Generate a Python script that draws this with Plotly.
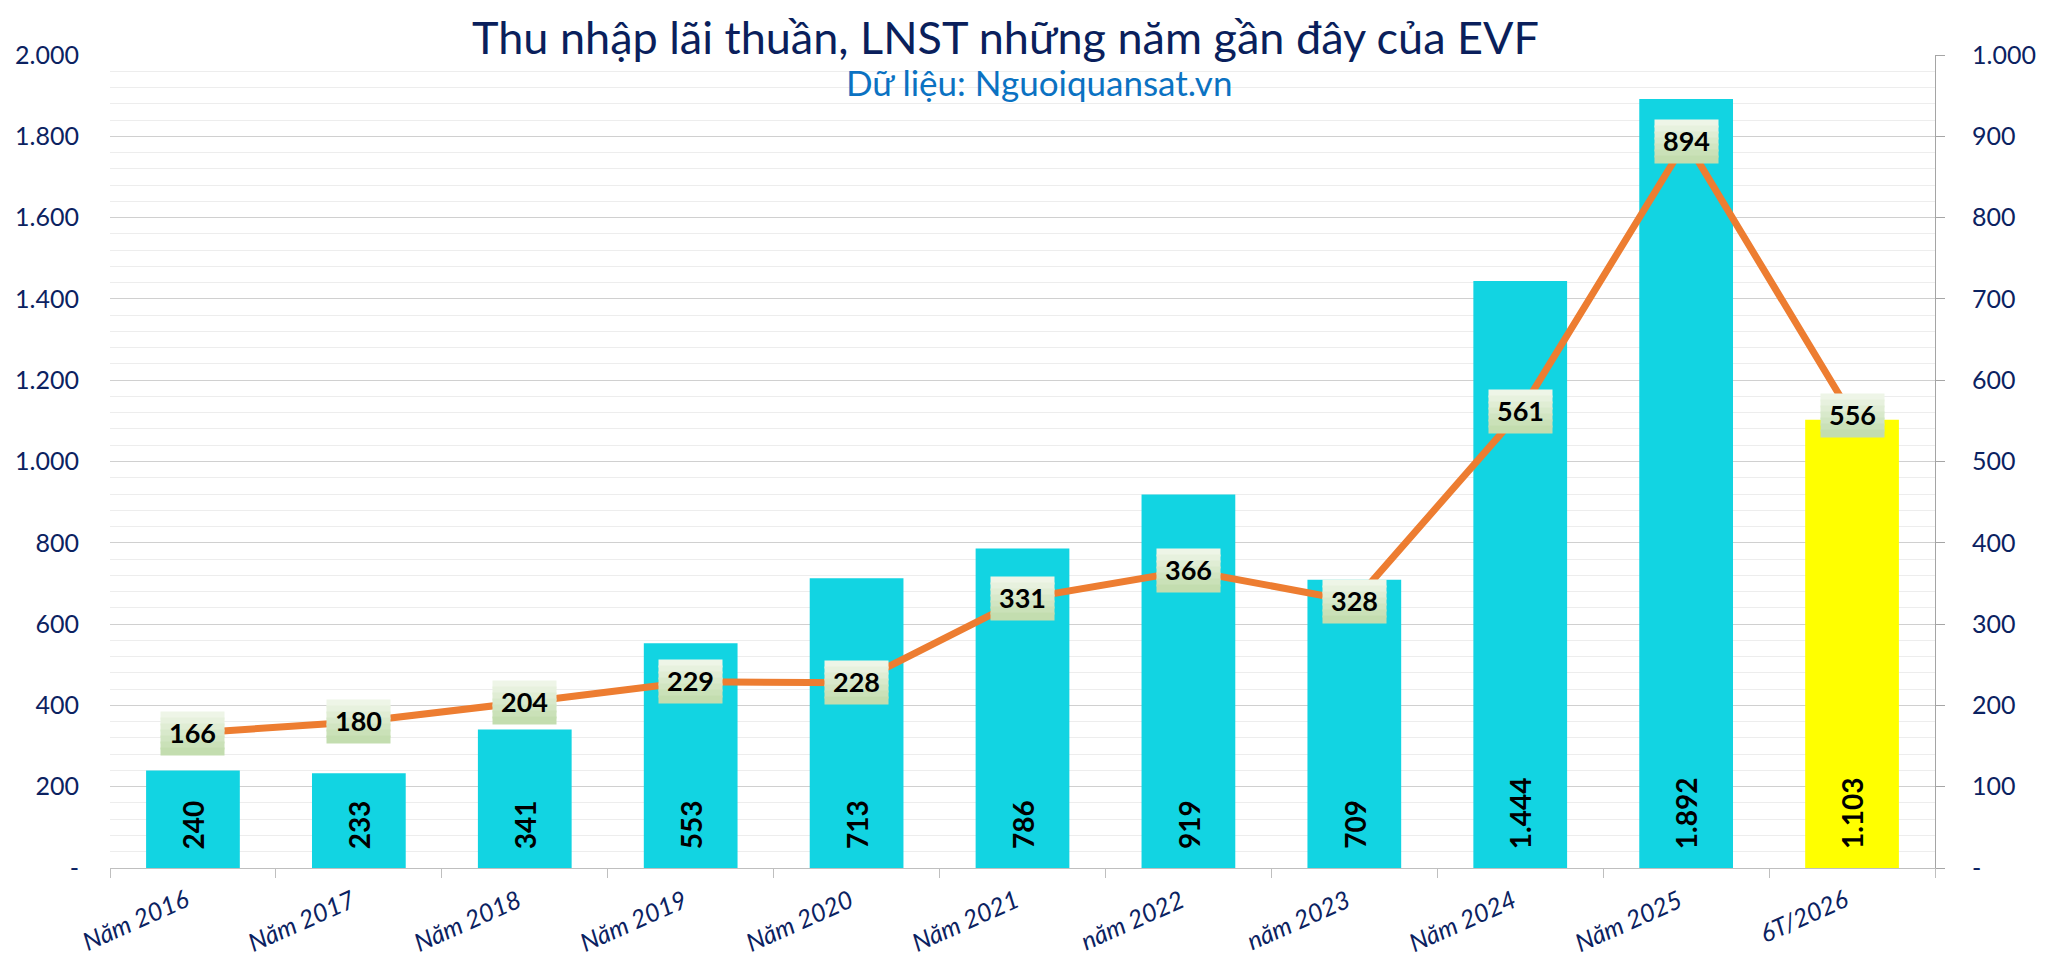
import plotly.graph_objects as go

categories = ["Năm 2016", "Năm 2017", "Năm 2018", "Năm 2019", "Năm 2020", "Năm 2021",
              "năm 2022", "năm 2023", "Năm 2024", "Năm 2025", "6T/2026"]
thu_nhap_lai_thuan = [240, 233, 341, 553, 713, 786, 919, 709, 1444, 1892, 1103]
lnst = [166, 180, 204, 229, 228, 331, 366, 328, 561, 894, 556]
bar_colors = ["#12D4E2"] * 10 + ["#FFFF00"]

left_ticks = [0, 200, 400, 600, 800, 1000, 1200, 1400, 1600, 1800, 2000]
right_ticks = [0, 100, 200, 300, 400, 500, 600, 700, 800, 900, 1000]


def fmt(v):
    return "-" if v == 0 else f"{v:,}".replace(",", ".")


FONT = "Lato, 'Open Sans', sans-serif"
NAVY = "#0B2261"

fig = go.Figure()
fig.add_trace(go.Bar(x=categories, y=thu_nhap_lai_thuan, marker=dict(color=bar_colors, line=dict(width=0)),
                     yaxis="y", hoverinfo="skip"))
fig.add_trace(go.Scatter(x=categories, y=lnst, mode="lines", yaxis="y2",
                         line=dict(color="#ED7D31", width=7), hoverinfo="skip"))

annotations = []
# bar value labels (rotated, at the base of each bar)
for c, v in zip(categories, thu_nhap_lai_thuan):
    annotations.append(dict(x=c, y=0, xref="x", yref="y", text=fmt(v), showarrow=False,
                            textangle=-90, yanchor="bottom", xanchor="center", yshift=17,
                            font=dict(family=FONT, size=28, color="black", weight="bold")))

# line value labels: gradient box built from stacked bands, then the text
BOX_W, BOX_H, NB = 63, 42, 7
top_rgb = (0xF2, 0xF7, 0xEC)
bot_rgb = (0xBF, 0xDB, 0xAA)
band_h = BOX_H / NB
for c, v in zip(categories, lnst):
    for i in range(NB):
        t = (i + 0.5) / NB
        col = "#%02X%02X%02X" % tuple(round(a + (b - a) * t) for a, b in zip(top_rgb, bot_rgb))
        center_off = BOX_H / 2 - (i + 0.5) * band_h
        annotations.append(dict(x=c, y=v, xref="x", yref="y2", text=" ", showarrow=False,
                                xanchor="center", yanchor="middle", width=BOX_W, height=band_h + 1,
                                borderpad=0, bgcolor=col, yshift=center_off,
                                font=dict(family=FONT, size=4)))
    annotations.append(dict(x=c, y=v, xref="x", yref="y2", text=fmt(v), showarrow=False,
                            xanchor="center", yanchor="middle", yshift=1,
                            font=dict(family=FONT, size=27, color="black", weight="bold")))

PL, PR, PT, PB = 110, 109, 55, 107
W, H = 2048, 975
pw = W - PL - PR
ph = H - PT - PB


def px(xp):
    return (xp - PL) / pw


def py(yp):
    return (H - PB - yp) / ph


# category labels (rotated)
for c in categories:
    annotations.append(dict(x=c, y=0, xref="x", yref="y", text=c, showarrow=False,
                            textangle=-24, xanchor="right", yanchor="top", xshift=3, yshift=-12,
                            font=dict(family=FONT, size=25, color=NAVY, style="italic")))

annotations.append(dict(x=px(1007), y=py(37), xref="paper", yref="paper",
                        text="Thu nhập lãi thuần, LNST những năm gần đây của EVF", showarrow=False,
                        xanchor="center", yanchor="middle",
                        font=dict(family=FONT, size=45, color="#0A1F5C")))
annotations.append(dict(x=px(1041), y=py(82), xref="paper", yref="paper",
                        text="Dữ liệu: Nguoiquansat.vn", showarrow=False,
                        xanchor="center", yanchor="middle",
                        font=dict(family=FONT, size=35, color="#0B72C2")))

fig.update_layout(
    width=W, height=H,
    margin=dict(l=PL, r=PR, t=PT, b=PB, pad=0),
    paper_bgcolor="white", plot_bgcolor="white",
    showlegend=False, bargap=0.435,
    annotations=annotations,
    xaxis=dict(type="category", range=[-0.5, 10.5], showline=True, linecolor="#BFBFBF", linewidth=1,
               ticks="outside", tickson="boundaries", ticklen=9, tickcolor="#BFBFBF",
               showticklabels=False, showgrid=False, fixedrange=True),
    yaxis=dict(range=[0, 2000], tickmode="array", tickvals=left_ticks,
               ticktext=[fmt(v) for v in left_ticks],
               showline=False, ticks="", zeroline=False,
               showgrid=True, gridcolor="#D0D0D0", gridwidth=1,
               minor=dict(tickmode="linear", tick0=0, dtick=40, showgrid=True, gridcolor="#EDEDED", gridwidth=1, ticks=""),
               ticklabelstandoff=30,
               tickfont=dict(family=FONT, size=25, color=NAVY)),
    yaxis2=dict(range=[0, 1000], overlaying="y", side="right", tickmode="array", tickvals=right_ticks,
                ticktext=[fmt(v) for v in right_ticks],
                showline=True, linecolor="#A5A5A5", linewidth=1, ticks="outside", ticklen=9,
                tickcolor="#A5A5A5", showgrid=False, zeroline=False, ticklabelstandoff=22,
                tickfont=dict(family=FONT, size=25, color=NAVY)),
)

fig.write_html("out.html", config={"displayModeBar": False, "responsive": False})
